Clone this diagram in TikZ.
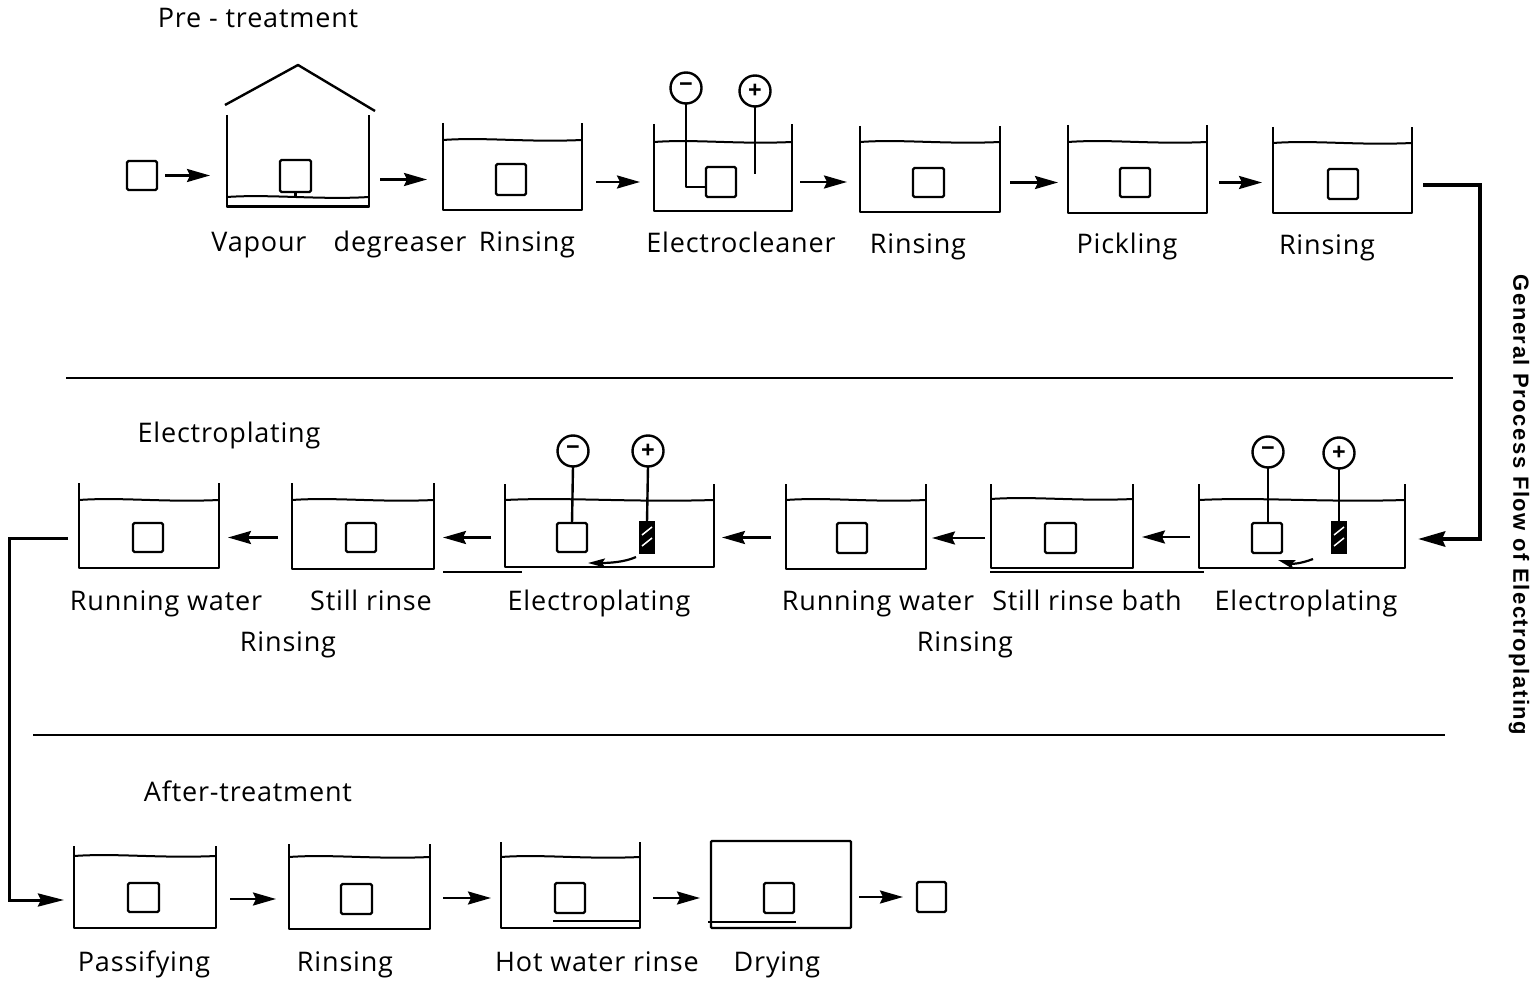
\documentclass[tikz,border=0pt]{standalone}
\usepackage{fontspec}
\setmainfont{Open Sans}
\newfontfamily\plotfont[LetterSpace=3]{Open Sans}
\newfontfamily\sidefont[LetterSpace=7]{Liberation Sans}
\usetikzlibrary{arrows.meta,patterns,calc}
\tikzset{
  ln/.style={line width=2.4pt,line join=round,black},
  box/.style={draw=none,inner sep=0pt,outer sep=0pt},
  part/.style={draw,line width=2.4pt,rounded corners=1.5pt,inner sep=0pt,outer sep=0pt},
  pole/.style={draw,circle,line width=2.4pt,minimum size=31pt,inner sep=0pt,outer sep=0pt,font=\bfseries\fontsize{24}{24}\selectfont},
  anode/.style={draw,line width=2pt,fill=black,inner sep=0pt,outer sep=0pt},
  flow/.style={line width=2.4pt,-{Stealth[length=23pt,width=13pt,inset=3pt]}},
  bigflow/.style={line width=4.5pt,-{Stealth[length=27pt,width=15pt,inset=3pt]}},
  midflow/.style={line width=3pt,-{Stealth[length=26pt,width=13pt,inset=3pt]}},
  curve/.style={line width=2.2pt,-{Stealth[length=17pt,width=9pt,inset=3pt]}},
  lab/.style={inner sep=0pt,text height=22pt,text depth=4pt,font=\plotfont\fontsize{27}{27}\selectfont,text=black},
  side/.style={inner sep=0pt,rotate=-90,font=\sidefont\bfseries\fontsize{22}{22}\selectfont},
}
\newcommand{\tank}[6]{%
  \node[box,minimum width={(#3-#2)*1pt},minimum height={(#6-#4)*1pt}] (#1) at ({(#2+#3)/2},{(#4+#6)/2}) {};
  \draw[ln] (#1.north west) -- (#1.south west) -- (#1.south east) -- (#1.north east);
  \draw[ln,line width=2pt] (#2,#5) .. controls ({#2+(#3-#2)*.3},{#5-3}) and ({#2+(#3-#2)*.6},{#5+2.5}) .. (#3,#5);
}
\newcommand{\work}[5]{%
  \node[part,minimum width={(#3-#2)*1pt},minimum height={(#5-#4)*1pt}] (#1) at ({(#2+#3)/2},{(#4+#5)/2}) {};
}
\begin{document}
\begin{tikzpicture}[x=1pt,y=-1pt]
\useasboundingbox (0,0) rectangle (1540,984);
% ---- row 1
\work{w0}{127}{157}{161}{190}
\node[box,minimum width=142pt,minimum height=92pt] (t1) at (298,161) {};
\draw[ln] (t1.north west) -- (t1.south west) -- (t1.south east) -- (t1.north east);
\draw[ln] (225,105) -- (298,65) -- (375,111);
\draw[ln,line width=2pt] (227,197) .. controls (270,194) and (320,200) .. (369,197);
\draw[ln,line width=3pt] (t1.south west) -- (t1.south east);
\work{w1}{280}{311}{160}{192}
\coordinate (b1) at (295.5,197);
\draw[ln] (w1.south) -- (b1);
\tank{t2}{443}{582}{123}{140}{210}
\work{w2}{496}{526}{164}{195}
\tank{t3}{654}{792}{124}{142}{211}
\work{w3}{706}{736}{167}{197}
\node[pole] (m3) at (686,88) {\textminus};
\node[pole] (p3) at (755,91) {+};
\coordinate (e3) at (755,174);
\draw[ln] (m3.south) |- ([yshift=-5pt]w3.west);
\draw[ln] (p3.south) -- (e3);
\tank{t4}{860}{1000}{126}{142}{212}
\work{w4}{913}{944}{168}{197}
\tank{t5}{1068}{1207}{125}{142}{213}
\work{w5}{1120}{1150}{168}{197}
\tank{t6}{1273}{1412}{127}{143}{213}
\work{w6}{1328}{1358}{169}{199}
\draw[flow,shorten <=8pt,shorten >=17pt] (w0.east) -- (w0.east -| t1.west);
\draw[flow,shorten <=11pt,shorten >=16pt] (t1.east |- w2.center) -- (t2.west |- w2.center);
\draw[flow,shorten <=14pt,shorten >=14pt] (t2.east |- w3.center) -- (t3.west |- w3.center);
\draw[flow,shorten <=8pt,shorten >=13pt] (t3.east |- w3.center) -- (t4.west |- w3.center);
\draw[flow,shorten <=10pt,shorten >=10pt] (t4.east |- w4.center) -- (t5.west |- w4.center);
\draw[flow,shorten <=12pt,shorten >=11pt] (t5.east |- w5.center) -- (t6.west |- w5.center);
% ---- rules
\coordinate (r1a) at (66,378); \coordinate (r1b) at (1453,378);
\coordinate (r2a) at (33,735); \coordinate (r2b) at (1445,735);
\draw[ln] (r1a) -- (r1b);
\draw[ln] (r2a) -- (r2b);
% ---- row 2
\tank{t7}{1199}{1405}{484}{500}{568}
\work{w7}{1252}{1282}{523}{553}
\node[anode,minimum width=14pt,minimum height=31pt] (a7) at (1339,537.5) {};
\node[pole] (m7) at (1268,452) {\textminus};
\node[pole] (p7) at (1339,453) {+};
\draw[ln] (m7.south) -- (w7.north -| m7.south);
\draw[ln] (p7.south) -- (a7.north);
\draw[white,line width=1.5pt] (1334,546) -- (1344,538) (1334,535) -- (1344,527);
\coordinate (c7a) at (1313,559); \coordinate (c7b) at (1278,560);
\draw[curve] (c7a) .. controls (1300,564) and (1292,564) .. (c7b);
\tank{t8}{991}{1133}{484}{499}{568}
\work{w8}{1045}{1076}{523}{553}
\coordinate (u8a) at (990,572); \coordinate (u8b) at (1204,572);
\draw[ln] (u8a) -- (u8b);
\tank{t9}{786}{926}{484}{500}{569}
\work{w9}{837}{867}{523}{553}
\tank{t10}{505}{714}{484}{500}{567}
\work{w10}{557}{587}{523}{552}
\node[anode,minimum width=14pt,minimum height=31pt] (a10) at (647,537.5) {};
\node[pole] (m10) at (573,451) {\textminus};
\node[pole] (p10) at (648,451) {+};
\draw[ln] (m10.south) -- (w10.north);
\draw[ln] (p10.south) -- (a10.north);
\draw[white,line width=1.5pt] (642,546) -- (652,538) (642,535) -- (652,527);
\coordinate (c10a) at (636,557); \coordinate (c10b) at (588,563);
\draw[curve] (c10a) .. controls (625,562) and (610,563) .. (c10b);
\coordinate (u10a) at (443,572); \coordinate (u10b) at (522,572);
\draw[ln] (u10a) -- (u10b);
\tank{t11}{292}{434}{483}{500}{569}
\work{w11}{346}{376}{523}{552}
\tank{t12}{79}{219}{483}{500}{568}
\work{w12}{133}{163}{523}{552}
\draw[flow,shorten <=9pt,shorten >=9pt] (t7.west |- 0,537) -- (t8.east |- 0,537);
\draw[flow,shorten <=6pt,shorten >=6pt] (t8.west |- w9.center) -- (t9.east |- w9.center);
\draw[flow,shorten <=15pt,shorten >=8pt] (t9.west |- w10.center) -- (t10.east |- w10.center);
\draw[flow,shorten <=14pt,shorten >=9pt] (t10.west |- w11.center) -- (t11.east |- w11.center);
\draw[flow,shorten <=14pt,shorten >=9pt] (t11.west |- w12.center) -- (t12.east |- w12.center);
% ---- row 3
\tank{t13}{74}{216}{846}{856}{928}
\work{w13}{128}{159}{883}{912}
\tank{t14}{289}{430}{844}{857}{929}
\work{w14}{341}{372}{884}{914}
\tank{t15}{501}{640}{842}{857}{928}
\work{w15}{555}{585}{883}{913}
\coordinate (u15a) at (553,921); \coordinate (u15b) at (640,921);
\draw[ln] (u15a) -- (u15b);
\node[draw,line width=2.4pt,rounded corners=1pt,minimum width=140pt,minimum height=87pt,inner sep=0pt,outer sep=0pt] (t16) at (781,884.5) {};
\work{w16}{764}{794}{883}{913}
\coordinate (u16a) at (708,922); \coordinate (u16b) at (796,922);
\draw[ln] (u16a) -- (u16b);
\work{w17}{917}{946}{882}{912}
\draw[flow,shorten <=14pt,shorten >=13pt] (t13.east |- w14.center) -- (t14.west |- w14.center);
\draw[flow,shorten <=13pt,shorten >=10pt] (t14.east |- w15.center) -- (t15.west |- w15.center);
\draw[flow,shorten <=13pt,shorten >=11pt] (t15.east |- w16.center) -- (t16.west |- w16.center);
\draw[flow,shorten <=8pt,shorten >=14pt] (t16.east |- w17.center) -- (w17.west);
% ---- long connectors
\coordinate (k1) at (1480,185); \coordinate (k2) at (1480,539);
\draw[bigflow,line join=miter,shorten <=11pt,shorten >=13pt] (t6.east |- k1) -- (k1) -- (k2) -- (t7.east |- k2);
\coordinate (k3) at (9,538); \coordinate (k4) at (9,900);
\draw[midflow,shorten <=11pt,shorten >=10pt] (t12.west |- k3) -- (k3) -- (k4) -- (t13.west |- k4);
% ---- labels
\node[lab] (l1) at (258,19) {Pre - treatment};
\node[lab] (l2) at (259,243) {Vapour};
\node[lab] (l3) at (400,243) {degreaser};
\node[lab] (l4) at (527,243) {Rinsing};
\node[lab] (l5) at (741,244) {Electrocleaner};
\node[lab] (l6) at (918,245) {Rinsing};
\node[lab] (l7) at (1127,245) {Pickling};
\node[lab] (l8) at (1327,246) {Rinsing};
\node[lab] (l9) at (229,433) {Electroplating};
\node[lab] (l10) at (166,601) {Running water};
\node[lab] (l11) at (371,601) {Still rinse};
\node[lab] (l12) at (599,601) {Electroplating};
\node[lab] (l13) at (878,601) {Running water};
\node[lab] (l14) at (1087,601) {Still rinse bath};
\node[lab] (l15) at (1306,601) {Electroplating};
\node[lab] (l16) at (288,642) {Rinsing};
\node[lab] (l17) at (965,642) {Rinsing};
\node[lab] (l18) at (248,792) {After-treatment};
\node[lab] (l19) at (144,962) {Passifying};
\node[lab] (l20) at (345,962) {Rinsing};
\node[lab] (l21) at (597,962) {Hot water rinse};
\node[lab] (l22) at (777,962) {Drying};
\node[side] (l23) at (1519,505) {General Process Flow of Electroplating};
\end{tikzpicture}
\end{document}
